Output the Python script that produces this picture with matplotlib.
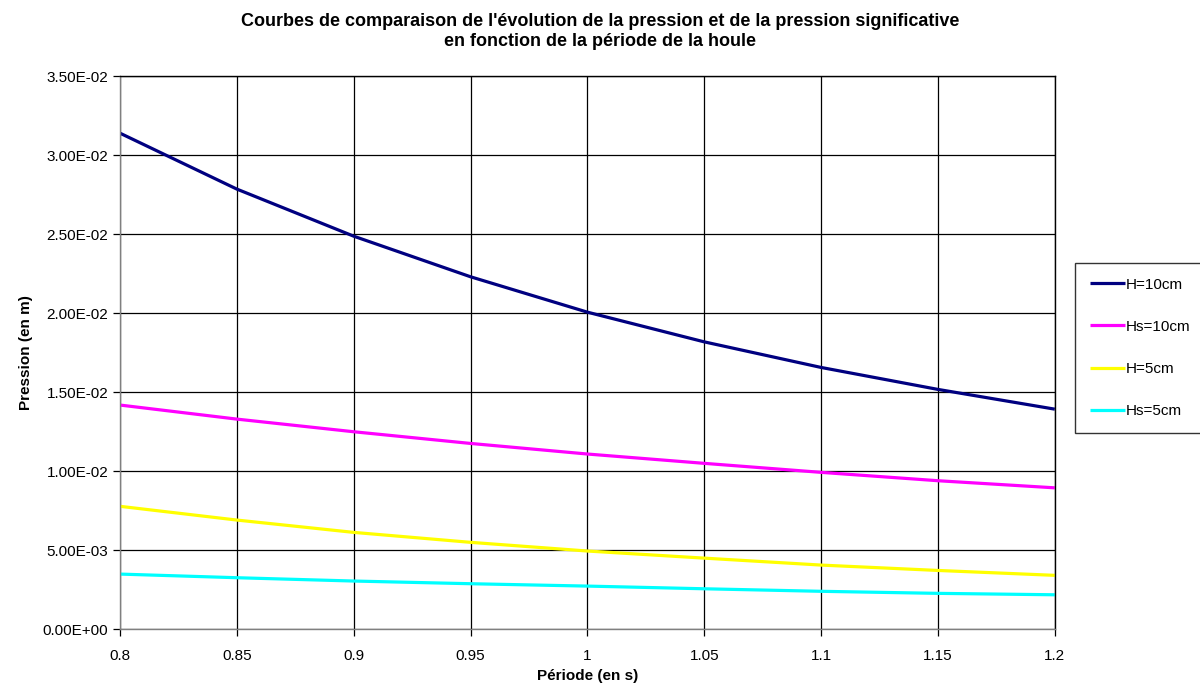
import matplotlib
matplotlib.use("Agg")
import matplotlib.pyplot as plt
from matplotlib.ticker import FuncFormatter

plt.rcParams['font.family'] = ['Liberation Sans', 'DejaVu Sans']

periode = [0.8, 0.85, 0.9, 0.95, 1.0, 1.05, 1.1, 1.15, 1.2]
h10 = [0.03139, 0.02785, 0.02487, 0.02230, 0.02006, 0.01818, 0.01656, 0.01517, 0.01392]
hs10 = [0.01418, 0.01329, 0.01249, 0.01175, 0.01108, 0.01049, 0.00992, 0.00939, 0.00894]
h5 = [0.00777, 0.00690, 0.00612, 0.00549, 0.00494, 0.00449, 0.00405, 0.00371, 0.00340]
hs5 = [0.00348, 0.00325, 0.00304, 0.00287, 0.00272, 0.00255, 0.00239, 0.00226, 0.00217]

labels = ["H=10cm", "Hs=10cm", "H=5cm", "Hs=5cm"]
colors = ["#000080", "#FF00FF", "#FFFF00", "#00FFFF"]
series = [h10, hs10, h5, hs5]

xticks = [0.8, 0.85, 0.9, 0.95, 1.0, 1.05, 1.1, 1.15, 1.2]
xticklabels = ["0.8", "0.85", "0.9", "0.95", "1", "1.05", "1.1", "1.15", "1.2"]
yticks = [0.0, 0.005, 0.01, 0.015, 0.02, 0.025, 0.03, 0.035]

fig = plt.figure(figsize=(12, 6.86), dpi=100)
ax = fig.add_axes([0.1, 0.083, 0.779, 0.806])

for s, lab, c in zip(series, labels, colors):
    ax.plot(periode, s, color=c, lw=2.3, label=lab, solid_capstyle='butt')

ax.set_xlim(0.8, 1.2)
ax.set_ylim(0, 0.035)
ax.set_xticks(xticks)
ax.set_xticklabels(xticklabels)
ax.set_yticks(yticks)
ax.yaxis.set_major_formatter(FuncFormatter(lambda v, p: f"{v:.2E}"))
ax.grid(True, color='black', lw=0.9)
ax.set_axisbelow(True)
ax.tick_params(labelsize=11, length=5, width=0.9, color='black', direction='out')
ax.tick_params(axis='x', pad=9)
for sp in ax.spines.values():
    sp.set_color('#808080')
    sp.set_linewidth(1)
ax.spines['top'].set_color('black')
ax.spines['right'].set_color('black')

ax.set_xlabel("Période (en s)", fontsize=11, fontweight='bold', labelpad=5)
ax.set_ylabel("Pression (en m)", fontsize=11, fontweight='bold', labelpad=7)
fig.suptitle("Courbes de comparaison de l'évolution de la pression et de la pression significative\n"
             "en fonction de la période de la houle",
             fontsize=13, fontweight='bold', y=0.981, va='top', linespacing=1.2)

leg = ax.legend(loc='upper left', bbox_to_anchor=(1075/1200, 1-263/686),
                bbox_transform=fig.transFigure, frameon=True, fancybox=False,
                edgecolor='black', fontsize=11, handlelength=2.3, handletextpad=0.1,
                labelspacing=1.85, borderpad=0.95, borderaxespad=0)
leg.get_frame().set_linewidth(1)

fig.savefig("out.png", dpi=100)
